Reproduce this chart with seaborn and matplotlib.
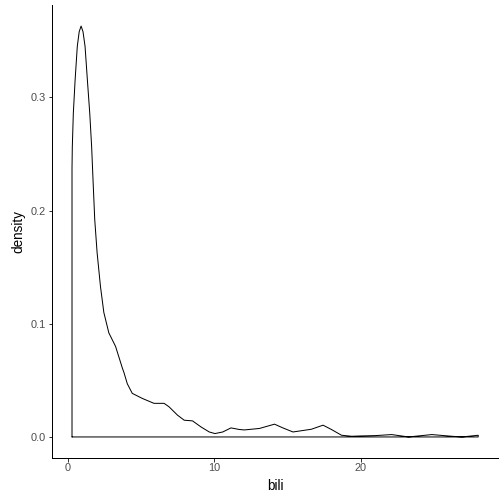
import matplotlib
matplotlib.use("Agg")
import matplotlib.pyplot as plt
import seaborn as sns

# density curve of bili
bili = [0.30, 0.32, 0.39, 0.51, 0.66, 0.79, 0.92, 1.05, 1.19, 1.35, 1.51,
        1.64, 1.74, 1.85, 2.01, 2.24, 2.47, 2.81, 3.27, 3.73, 3.84, 4.07,
        4.41, 5.10, 5.89, 6.58, 6.92, 7.49, 7.95, 8.52, 9.09, 9.66, 10.05,
        10.58, 11.14, 11.71, 12.05, 13.08, 14.11, 14.68, 15.37, 16.62,
        17.42, 17.99, 18.68, 19.37, 20.05, 21.00, 22.10, 23.25, 24.84,
        26.20, 26.90, 28.00]
density = [0.237, 0.256, 0.286, 0.315, 0.345, 0.358, 0.363, 0.358, 0.345,
           0.315, 0.286, 0.256, 0.225, 0.192, 0.163, 0.133, 0.110, 0.092,
           0.080, 0.061, 0.057, 0.047, 0.0385, 0.034, 0.0297, 0.0297,
           0.0266, 0.0193, 0.0148, 0.0142, 0.0089, 0.0044, 0.003, 0.0044,
           0.008, 0.0066, 0.0062, 0.0075, 0.0113, 0.008, 0.0044, 0.0068,
           0.0104, 0.0066, 0.0015, 0.0006, 0.0009, 0.0012, 0.0021, 0.0,
           0.0021, 0.0006, 0.0, 0.0015]

x_ticks = [0, 10, 20]
y_ticks = [0.0, 0.1, 0.2, 0.3]

sns.set_theme(style="ticks")
plt.rcParams['font.family'] = ['Liberation Sans', 'DejaVu Sans']

fig = plt.figure(figsize=(7, 7), dpi=72)
ax = fig.add_axes([51.7 / 504, 46.5 / 504, (498.5 - 51.7) / 504, (498.5 - 46.5) / 504])

# closed outline like geom_density: baseline back to the start
px = [bili[0]] + bili + [bili[-1], bili[0]]
py = [0.0] + density + [0.0, 0.0]
sns.lineplot(x=px, y=py, sort=False, estimator=None, color="black",
             linewidth=1.0, ax=ax)

span_x = bili[-1] - bili[0]
ax.set_xlim(bili[0] - 0.05 * span_x, bili[-1] + 0.05 * span_x)
top = max(density)
ax.set_ylim(-0.05 * top, top * 1.05)

ax.set_xticks(x_ticks)
ax.set_xticklabels([str(t) for t in x_ticks])
ax.set_yticks(y_ticks)
ax.set_yticklabels([f"{t:.1f}" for t in y_ticks])

for side in ["top", "right"]:
    ax.spines[side].set_visible(False)
for side in ["left", "bottom"]:
    ax.spines[side].set_color("black")
    ax.spines[side].set_linewidth(1.0)

ax.tick_params(axis="both", length=3.5, width=1.0, color="#333333",
               labelsize=11, labelcolor="#4D4D4D", pad=2)
ax.set_xlabel("bili", fontsize=13.5, color="black", labelpad=6)
ax.set_ylabel("density", fontsize=13.5, color="black", labelpad=6)

fig.savefig("out.png", dpi=72)
